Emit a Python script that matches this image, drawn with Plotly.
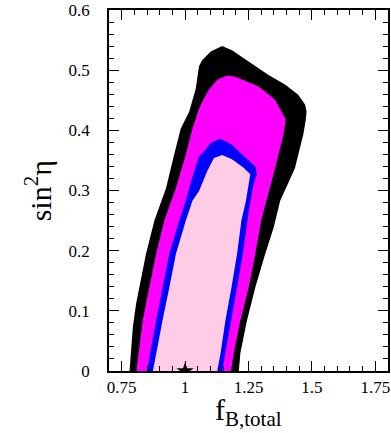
import plotly.graph_objects as go

# contour boundaries (f_B,total, sin^2 eta)
black_x = [0.781, 0.788, 0.794, 0.807, 0.820, 0.846, 0.879, 0.925, 0.957, 0.983, 1.016, 1.042, 1.055, 1.068, 1.101, 1.146, 1.185, 1.251, 1.329, 1.394, 1.446, 1.473, 1.479, 1.475, 1.466, 1.433, 1.394, 1.375, 1.349, 1.316, 1.277, 1.244, 1.218, 1.212]
black_y = [0.0, 0.040, 0.073, 0.112, 0.139, 0.195, 0.250, 0.304, 0.360, 0.403, 0.431, 0.469, 0.507, 0.517, 0.531, 0.540, 0.533, 0.514, 0.492, 0.476, 0.459, 0.443, 0.431, 0.415, 0.393, 0.337, 0.299, 0.283, 0.238, 0.195, 0.139, 0.084, 0.030, 0.0]

magenta_x = [0.808, 0.817, 0.833, 0.859, 0.886, 0.918, 0.964, 1.003, 1.029, 1.055, 1.068, 1.094, 1.127, 1.166, 1.199, 1.290, 1.355, 1.397, 1.388, 1.355, 1.322, 1.300, 1.277, 1.251, 1.218, 1.192, 1.181]
magenta_y = [0.0, 0.030, 0.084, 0.139, 0.195, 0.250, 0.304, 0.360, 0.403, 0.436, 0.448, 0.468, 0.484, 0.491, 0.489, 0.473, 0.451, 0.418, 0.393, 0.337, 0.283, 0.250, 0.195, 0.139, 0.084, 0.030, 0.0]

blue_x = [0.851, 0.862, 0.886, 0.911, 0.938, 0.977, 1.003, 1.016, 1.042, 1.055, 1.075, 1.101, 1.140, 1.185, 1.224, 1.277, 1.283, 1.270, 1.251, 1.235, 1.228, 1.205, 1.181, 1.159, 1.146]
blue_y = [0.0, 0.030, 0.084, 0.139, 0.195, 0.250, 0.283, 0.304, 0.337, 0.357, 0.365, 0.379, 0.386, 0.376, 0.360, 0.340, 0.327, 0.311, 0.266, 0.217, 0.195, 0.139, 0.084, 0.030, 0.0]

pink_x = [0.873, 0.886, 0.911, 0.938, 0.964, 1.003, 1.029, 1.055, 1.087, 1.114, 1.146, 1.185, 1.231, 1.257, 1.240, 1.222, 1.205, 1.183, 1.159, 1.140, 1.127]
pink_y = [0.0, 0.030, 0.084, 0.139, 0.195, 0.250, 0.283, 0.299, 0.332, 0.354, 0.359, 0.352, 0.338, 0.327, 0.283, 0.250, 0.195, 0.139, 0.084, 0.030, 0.0]

star_x = [1.0]
star_y = [0.0]

x_tickvals = [0.75, 1.0, 1.25, 1.5, 1.75]
x_ticktext = ["0.75", "1", "1.25", "1.5", "1.75"]
y_tickvals = [0, 0.1, 0.2, 0.3, 0.4, 0.5, 0.6]
y_ticktext = ["0", "0.1", "0.2", "0.3", "0.4", "0.5", "0.6"]

fig = go.Figure()
for xs, ys, col in [(black_x, black_y, "#000000"), (magenta_x, magenta_y, "#ff00ff"),
                    (blue_x, blue_y, "#0000ff"), (pink_x, pink_y, "#ffcce5")]:
    fig.add_trace(go.Scatter(x=xs, y=ys, mode="lines", fill="toself", fillcolor=col,
                             line=dict(width=0, color=col), hoverinfo="skip", showlegend=False))

fig.add_trace(go.Scatter(x=star_x, y=star_y, mode="markers",
                         marker=dict(symbol="star", size=13, color="black"),
                         showlegend=False, cliponaxis=True))

font = "Times New Roman, Liberation Serif, serif"
axis_common = dict(showgrid=False, zeroline=False, showline=True, linecolor="black", linewidth=1.5,
                   mirror="ticks", ticks="inside", ticklen=10, tickwidth=1.2, tickcolor="black",
                   ticklabeloverflow="allow",
                   tickfont=dict(family=font, size=17, color="black"))

fig.update_xaxes(range=[0.7, 1.8], tickvals=x_tickvals, ticktext=x_ticktext,
                 minor=dict(dtick=0.05, tick0=0.7, ticks="inside", ticklen=5, tickwidth=1, tickcolor="black"),
                 **axis_common)
fig.update_yaxes(range=[0, 0.6], tickvals=y_tickvals, ticktext=y_ticktext,
                 minor=dict(dtick=0.02, tick0=0, ticks="inside", ticklen=5, tickwidth=1, tickcolor="black"),
                 ticklabelstandoff=14, **axis_common)

fig.update_layout(
    width=391, height=433,
    margin=dict(l=109, r=1, t=8, b=62),
    paper_bgcolor="white", plot_bgcolor="white",
    font=dict(family=font, color="black"),
    annotations=[
        dict(text="sin<sup>2</sup>η", xref="paper", yref="paper", x=-0.255, y=0.5,
             xanchor="center", yanchor="middle", textangle=-90, showarrow=False,
             font=dict(family=font, size=30, color="black")),
        dict(text="f<sub>B,total</sub>", xref="paper", yref="paper", x=0.5, y=-0.172,
             xanchor="center", yanchor="bottom", showarrow=False,
             font=dict(family=font, size=30, color="black")),
    ],
)

fig.write_html("out.html")
